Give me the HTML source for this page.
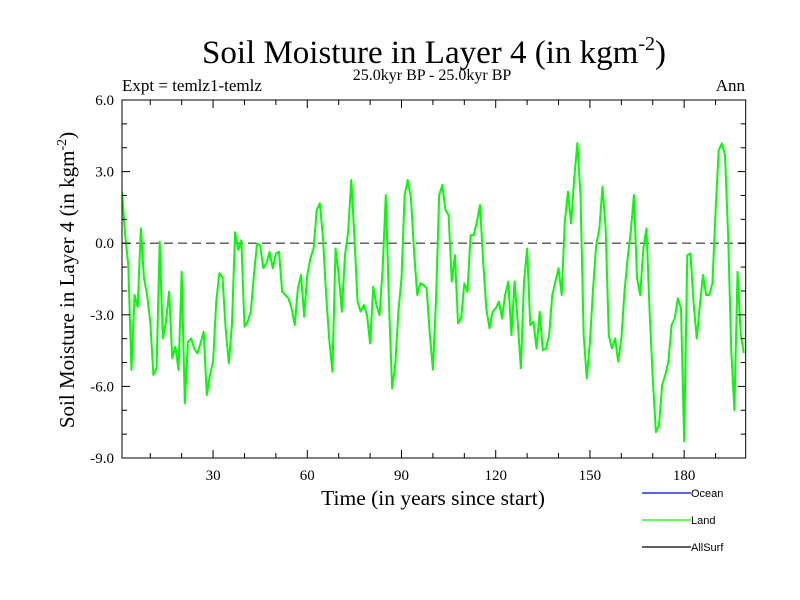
<!DOCTYPE html>
<html><head><meta charset="utf-8"><style>
html,body{margin:0;padding:0;background:#fff;}
svg{display:block;}
</style></head><body>
<svg id="chart" width="800" height="600" xmlns="http://www.w3.org/2000/svg" font-family="Liberation Serif, serif">
<text x="434" y="63" font-size="33" text-anchor="middle">Soil Moisture in Layer 4 (in kgm<tspan dy="-13" font-size="20">-2</tspan><tspan dy="13">)</tspan></text>
<text x="432" y="80" font-size="16" text-anchor="middle">25.0kyr BP - 25.0kyr BP</text>
<text x="122" y="91" font-size="17">Expt = temlz1-temlz</text>
<text x="745" y="91" font-size="17" text-anchor="end">Ann</text>
<g id="axes"></g>
<text x="433" y="505" font-size="21.5" text-anchor="middle">Time (in years since start)</text>
<text transform="translate(74,280) rotate(-90)" font-size="21" text-anchor="middle">Soil Moisture in Layer 4 (in kgm<tspan dy="-8" font-size="14">-2</tspan><tspan dy="8">)</tspan></text>
<g font-family="Liberation Sans, sans-serif" font-size="11">
<line x1="642" y1="493" x2="691" y2="493" stroke="#0000ff" stroke-width="1.2"/>
<text x="691" y="497">Ocean</text>
<line x1="642" y1="520" x2="691" y2="520" stroke="#00ff00" stroke-width="1.2"/>
<text x="691" y="524">Land</text>
<line x1="642" y1="547" x2="691" y2="547" stroke="#000" stroke-width="1.2"/>
<text x="691" y="551">AllSurf</text>
</g>
</svg>
<script>
const landValues = [2.16,0.34,-0.91,-5.31,-2.17,-2.66,0.62,-1.47,-2.17,-3.29,-5.52,-5.24,0.06,-3.99,-3.29,-2.03,-4.82,-4.34,-5.31,-1.19,
-6.71,-4.13,-3.99,-4.41,-4.62,-4.2,-3.71,-6.36,-5.52,-4.96,-2.45,-1.26,-1.44,-3.57,-5.03,-3.43,0.46,-0.28,0.12,-3.5,
-3.29,-2.87,-1.33,-0.01,-0.1,-1.05,-0.84,-0.36,-1.05,-0.43,-0.36,-2.03,-2.17,-2.31,-2.73,-3.43,-1.89,-1.33,-3.08,-1.33,
-0.63,-0.22,1.39,1.67,0.2,-2.17,-4.06,-5.38,-0.22,-1.33,-2.87,-0.5,0.48,2.65,0.27,-2.45,-2.87,-2.59,-3.01,-4.2,
-1.82,-2.59,-3.01,-1.05,2.02,-2.45,-6.08,-5.1,-2.87,-1.47,2.02,2.65,1.88,-0.36,-2.17,-1.68,-1.75,-1.89,-3.8,-5.3,
-2.31,2.02,2.44,1.39,1.18,-1.61,-0.5,-3.36,-3.15,-1.68,-2.03,0.34,0.34,0.9,1.6,-0.77,-2.73,-3.57,-2.87,-2.73,
-2.45,-3.15,-2.17,-1.61,-3.85,-1.61,-3.29,-5.24,-1.61,-0.22,-3.43,-3.29,-4.41,-2.87,-4.48,-4.41,-3.85,-2.17,-1.61,-1.05,
-2.17,0.9,2.16,0.83,2.72,4.2,2.0,-3.85,-5.66,-4.13,-1.89,-0.08,0.62,2.37,0.62,-3.85,-4.41,-3.99,-4.96,-3.99,
-2.03,-0.63,0.48,2.02,-1.47,-2.17,-0.22,0.62,-2.87,-5.66,-7.92,-7.62,-5.94,-5.52,-4.96,-3.43,-3.15,-2.31,-2.73,-8.3,
-0.5,-0.43,-2.5,-3.99,-2.59,-1.33,-2.17,-2.17,-1.68,1.32,3.9,4.18,3.7,0.34,-4.5,-7.0,-1.2,-3.8,-4.6];
const startYear = 1;
const xTickLabels = [30,60,90,120,150,180];
const yTickLabels = ["6.0","3.0","0.0","-3.0","-6.0","-9.0"];

const L=122,R=745.7,T=100,B=458;
const xMin=1,xMax=199.6,yMin=-9,yMax=6;
function xs(v){return L+(v-xMin)/(xMax-xMin)*(R-L);}
function ys(v){return T+(yMax-v)/(yMax-yMin)*(B-T);}
const NS="http://www.w3.org/2000/svg";
const svg=document.getElementById('chart');
const g=document.getElementById('axes');
function mk(tag,attrs,parent){const e=document.createElementNS(NS,tag);for(const k in attrs)e.setAttribute(k,attrs[k]);(parent||g).appendChild(e);return e;}

const zl=mk('line',{x1:L,x2:R,y1:ys(0),y2:ys(0),stroke:'#555','stroke-width':1.3,'stroke-dasharray':'9,5'});



let d='';
landValues.forEach((v,i)=>{d+=(i?'L':'M')+xs(startYear+i).toFixed(2)+','+ys(v).toFixed(2);});
const cp=mk('clipPath',{id:'plotclip'});
mk('rect',{x:L,y:T,width:R-L,height:B-T},cp);
const path=mk('path',{d:d,fill:'none',stroke:'#00ff00','stroke-width':2,'stroke-linejoin':'round','clip-path':'url(#plotclip)'});



const fr=mk('rect',{x:L,y:T,width:R-L,height:B-T,fill:'none',stroke:'#000','stroke-width':1});



for(let v=yMin;v<=yMax;v+=1){
  const y=ys(v);const major=(v%3===0);const len=major?8:5;
  mk('line',{x1:L,x2:L+len,y1:y,y2:y,stroke:'#000','stroke-width':1});
  mk('line',{x1:R,x2:R-len,y1:y,y2:y,stroke:'#000','stroke-width':1});
}
yTickLabels.forEach(s=>{
  const t=mk('text',{x:L-8,y:ys(parseFloat(s))+5,'font-size':15,'text-anchor':'end'});
  t.textContent=s;
  
  
});
for(let v=10;v<=xMax;v+=10){
  const x=xs(v);const major=(v%30===0);const len=major?8:5;
  mk('line',{x1:x,x2:x,y1:B,y2:B-len,stroke:'#000','stroke-width':1});
  mk('line',{x1:x,x2:x,y1:T,y2:T+len,stroke:'#000','stroke-width':1});
}
xTickLabels.forEach(v=>{
  const t=mk('text',{x:xs(v),y:B+22,'font-size':15,'text-anchor':'middle'});
  t.textContent=String(v);
  
  
});
</script>
</body></html>
